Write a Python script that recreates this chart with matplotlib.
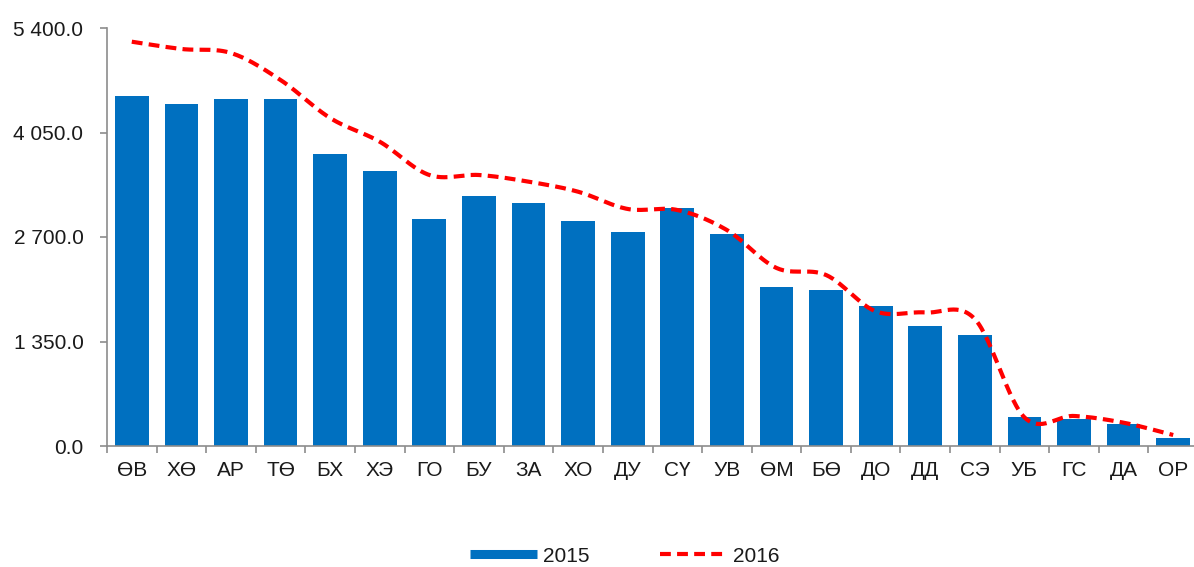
import numpy as np
import matplotlib
matplotlib.use("Agg")
import matplotlib.pyplot as plt
from matplotlib.lines import Line2D
from matplotlib.ticker import FuncFormatter, FixedLocator

plt.rcParams['font.family'] = ['Liberation Sans', 'DejaVu Sans']

categories = ["ӨВ", "ХӨ", "АР", "ТӨ", "БХ", "ХЭ", "ГО", "БУ", "ЗА", "ХО", "ДУ",
              "СҮ", "УВ", "ӨМ", "БӨ", "ДО", "ДД", "СЭ", "УБ", "ГС", "ДА", "ОР"]
values_2015 = [4526, 4418, 4483, 4483, 3776, 3557, 2929, 3230, 3135, 2911, 2769,
               3071, 2739, 2050, 2015, 1809, 1550, 1434, 379, 345, 284, 107]
values_2016 = [5223, 5129, 5077, 4728, 4237, 3931, 3501, 3501, 3415, 3285, 3062,
               3049, 2790, 2300, 2209, 1740, 1725, 1640, 370, 388, 301, 142]
yticks = [0, 1350, 2700, 4050, 5400]
series_labels = ["2015", "2016"]

BLUE = "#0070C0"
RED = "#FF0000"
GRAY = "#8C8C8C"
FS = 15


def smooth(xs, ys, n=30, tension=0.5):
    """Cardinal spline through the points (Excel-like smoothed line)."""
    xs = np.asarray(xs, float)
    ys = np.asarray(ys, float)
    px = np.concatenate([[xs[0]], xs, [xs[-1]]])
    py = np.concatenate([[ys[0]], ys, [ys[-1]]])
    outx, outy = [], []
    t = np.linspace(0, 1, n, endpoint=False)
    for i in range(1, len(px) - 2):
        p0x, p1x, p2x, p3x = px[i - 1:i + 3]
        p0y, p1y, p2y, p3y = py[i - 1:i + 3]
        m1x, m2x = tension * (p2x - p0x), tension * (p3x - p1x)
        m1y, m2y = tension * (p2y - p0y), tension * (p3y - p1y)
        h00 = 2 * t**3 - 3 * t**2 + 1
        h10 = t**3 - 2 * t**2 + t
        h01 = -2 * t**3 + 3 * t**2
        h11 = t**3 - t**2
        outx.append(h00 * p1x + h10 * m1x + h01 * p2x + h11 * m2x)
        outy.append(h00 * p1y + h10 * m1y + h01 * p2y + h11 * m2y)
    outx.append([xs[-1]])
    outy.append([ys[-1]])
    return np.concatenate(outx), np.concatenate(outy)


W, H = 1194, 567
fig = plt.figure(figsize=(W / 100, H / 100), dpi=100)
ax = fig.add_axes([107 / W, 121 / H, (1198 - 107) / W, 418 / H])

x = np.arange(len(categories))
ax.bar(x, values_2015, width=0.68, color=BLUE, zorder=2)
sx, sy = smooth(x, values_2016)
ax.plot(sx, sy, color=RED, lw=3.0, dashes=(2.6, 1.5), zorder=3)

ax.set_xlim(-0.5, len(categories) - 0.5)
ax.set_ylim(0, 5400)

ax.yaxis.set_major_locator(FixedLocator(yticks))
ax.yaxis.set_major_formatter(FuncFormatter(
    lambda v, p: f"{v:,.1f}".replace(",", " ")))

ax.set_xticks(x)
ax.set_xticklabels(categories)
ax.set_xticks(np.arange(-0.5, len(categories), 1.0), minor=True)
ax.tick_params(axis='x', which='major', length=0, pad=11, labelsize=FS,
               colors="#1a1a1a")
ax.tick_params(axis='x', which='minor', length=5, width=1.2, color=GRAY,
               direction='out')
ax.tick_params(axis='y', which='major', length=5, width=1.2, color=GRAY,
               labelsize=FS, labelcolor="#1a1a1a", pad=12)

for s in ['top', 'right']:
    ax.spines[s].set_visible(False)
for s in ['left', 'bottom']:
    ax.spines[s].set_color(GRAY)
    ax.spines[s].set_linewidth(1.2)

handles = [Line2D([], [], color=BLUE, lw=6.5, solid_capstyle='butt'),
           Line2D([], [], color=RED, lw=3.0, dashes=(2.6, 1.5))]
fig.legend(handles, series_labels, loc='center',
           bbox_to_anchor=(625 / W, 1 - 556 / H), ncol=2, frameon=False,
           fontsize=FS, handlelength=3.2, handletextpad=0.3,
           columnspacing=3.4, labelcolor="#1a1a1a")

fig.savefig("out.png", dpi=100)
